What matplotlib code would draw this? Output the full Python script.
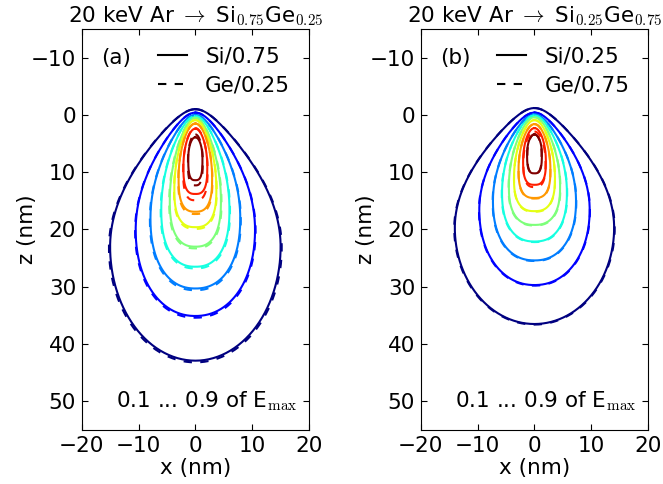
import numpy as np
import matplotlib
matplotlib.use("Agg")
import matplotlib.pyplot as plt
from matplotlib.lines import Line2D

# 等高線レベル (E/Emax)
levels = [0.1, 0.2, 0.3, 0.4, 0.5, 0.6, 0.7, 0.8, 0.9]

# (a) Si0.75Ge0.25 : 各レベルの上端 z, 最大幅の深さ, 半幅, 下端 z (nm)
a_si_top = [-1.0, -0.4, 0.0, 0.2, 0.5, 0.9, 1.5, 2.4, 3.9]
a_si_zw  = [23.0, 20.0, 18.0, 16.5, 15.0, 13.0, 11.0, 9.0, 7.6]
a_si_hw  = [15.0, 10.5, 7.9, 6.0, 4.5, 3.7, 2.95, 2.1, 1.25]
a_si_bot = [42.9, 35.1, 30.3, 26.5, 23.0, 19.6, 16.9, 13.8, 11.4]

a_ge_top = [-1.0, -0.4, 0.0, 0.2, 0.5, 0.9, 1.5, 2.3, 3.4]
a_ge_zw  = [23.2, 20.2, 18.2, 16.7, 15.2, 13.2, 11.3, 9.5, 8.0]
a_ge_hw  = [15.2, 10.6, 8.0, 6.1, 4.6, 3.75, 3.0, 2.15, 1.3]
a_ge_bot = [43.2, 35.4, 30.6, 26.8, 23.3, 19.9, 17.3, 14.9, 12.3]

# (b) Si0.25Ge0.75
b_si_top = [-1.2, -0.4, -0.1, 0.1, 0.4, 0.9, 1.6, 2.3, 3.4]
b_si_zw  = [19.7, 16.5, 15.0, 13.5, 12.5, 11.0, 9.5, 8.0, 6.8]
b_si_hw  = [14.0, 9.7, 7.3, 5.7, 4.5, 3.6, 2.8, 2.0, 1.3]
b_si_bot = [36.5, 29.7, 25.4, 22.1, 19.2, 16.8, 14.5, 12.2, 10.2]

b_ge_top = [-1.2, -0.4, -0.1, 0.1, 0.4, 0.9, 1.6, 2.9, 3.4]
b_ge_zw  = [19.8, 16.6, 15.1, 13.6, 12.6, 11.1, 9.6, 8.2, 6.8]
b_ge_hw  = [14.1, 9.75, 7.35, 5.75, 4.55, 3.6, 2.8, 1.95, 1.25]
b_ge_bot = [36.6, 29.8, 25.5, 22.2, 19.3, 16.9, 14.6, 12.6, 10.2]

titles = [r'20 keV Ar $\rightarrow$ Si$_{0.75}$Ge$_{0.25}$',
          r'20 keV Ar $\rightarrow$ Si$_{0.25}$Ge$_{0.75}$']
tags = ['(a)', '(b)']
si_labels = ['Si/0.75', 'Si/0.25']
ge_labels = ['Ge/0.25', 'Ge/0.75']

plt.rcParams['font.family'] = ['DejaVu Sans']
plt.rcParams['mathtext.fontset'] = 'cm'
plt.rcParams['font.size'] = 15.5
plt.rcParams['xtick.direction'] = 'in'
plt.rcParams['ytick.direction'] = 'in'
plt.rcParams['xtick.top'] = True
plt.rcParams['ytick.right'] = True
plt.rcParams['xtick.major.size'] = 4
plt.rcParams['ytick.major.size'] = 4
plt.rcParams['xtick.major.pad'] = 4
plt.rcParams['ytick.major.pad'] = 4


# 卵形の閉曲線: 上半分は細めた楕円, 下半分は超楕円
def egg(top, zw, hw, bot, k_up, p_lo, n=90):
    t = np.sin(np.linspace(0, np.pi / 2, n))
    z_up = zw - t * (zw - top)
    x_up = hw * np.sqrt(1 - t ** 2) * (1 - k_up * t ** 2)
    z_lo = zw + t * (bot - zw)
    x_lo = hw * (1 - t ** p_lo) ** (1 / p_lo)
    z_r = np.concatenate([z_up[::-1], z_lo[1:]])
    x_r = np.concatenate([x_up[::-1], x_lo[1:]])
    x = np.concatenate([x_r, -x_r[::-1][1:]])
    z = np.concatenate([z_r, z_r[::-1][1:]])
    return x, z


def draw_contours(ax, top, zw, hw, bot, ls):
    cmap = plt.cm.jet
    norm = plt.Normalize(levels[0], levels[-1])
    for i, lev in enumerate(levels):
        s = norm(lev)
        x, z = egg(top[i], zw[i], hw[i], bot[i], 0.45 * (1 - s), 2.0 + 1.0 * s)
        ax.plot(x, z, color=cmap(s), lw=1.5, ls=ls)


fig = plt.figure(figsize=(6.63, 4.84), dpi=100)
ax_a = fig.add_axes([0.1232, 0.1116, 0.3429, 0.8285])
ax_b = fig.add_axes([0.6345, 0.1116, 0.3433, 0.8285])

panels = [
    (ax_a, (a_si_top, a_si_zw, a_si_hw, a_si_bot), (a_ge_top, a_ge_zw, a_ge_hw, a_ge_bot)),
    (ax_b, (b_si_top, b_si_zw, b_si_hw, b_si_bot), (b_ge_top, b_ge_zw, b_ge_hw, b_ge_bot)),
]

dash = (0, (4, 4))
for k, (ax, si, ge) in enumerate(panels):
    draw_contours(ax, *si, ls='-')
    draw_contours(ax, *ge, ls=dash)

    ax.set_xlim(-20, 20)
    ax.set_ylim(55, -15)
    ax.set_xticks([-20, -10, 0, 10, 20])
    ax.set_yticks([-10, 0, 10, 20, 30, 40, 50])
    ax.set_xlabel('x (nm)', labelpad=2)
    ax.set_ylabel('z (nm)')
    ax.yaxis.set_label_coords(-0.197, 0.5)
    ax.set_title(titles[k], fontsize=15.5, pad=5)

    ax.text(-16.5, -10, tags[k], va='center')
    handles = [Line2D([], [], color='k', lw=1.5),
               Line2D([], [], color='k', lw=1.5, ls=dash)]
    ax.legend(handles, [si_labels[k], ge_labels[k]], loc='upper right',
              bbox_to_anchor=(0.955, 0.978), borderaxespad=0, frameon=False,
              handlelength=1.35, handletextpad=0.85, labelspacing=0.42)
    ax.text(-14.0, 51, r'0.1 ... 0.9 of E$_{\rm max}$', va='baseline')

fig.savefig('out.png', dpi=100)
